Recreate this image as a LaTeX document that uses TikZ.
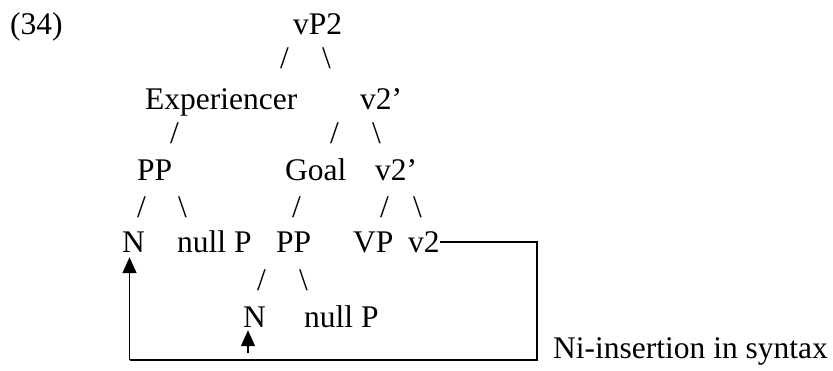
\documentclass[tikz,border=0pt]{standalone}
\usepackage{fontspec}
\setmainfont{Liberation Serif}
\usetikzlibrary{arrows.meta}
\begin{document}
\begin{tikzpicture}[x=1pt,y=-1pt,
        lab/.style={anchor=base west,inner sep=0pt,font=\fontsize{31.5}{37}\selectfont},
        link/.style={line width=1.6pt},
        tip/.style={-{Triangle[width=14pt,length=16pt]}}]
        \useasboundingbox (0,0) rectangle (833,370);
        \node[lab] (ex) at (10,34) {(34)};
        \node[lab] (vP) at (293,34) {vP2};
        \node[lab] (s1) at (280,68) {/};
        \node[lab] (s2) at (322,68) {\textbackslash};
        \node[lab] (Exp) at (145,109) {Experiencer};
        \node[lab] (vbarA) at (360,109) {v2’};
        \node[lab] (s3) at (170,143) {/};
        \node[lab] (s4) at (330,143) {/};
        \node[lab] (s5) at (372,143) {\textbackslash};
        \node[lab] (PPa) at (137,180) {PP};
        \node[lab] (Goal) at (285,180) {Goal};
        \node[lab] (vbarB) at (375,180) {v2’};
        \node[lab] (s6) at (137,217) {/};
        \node[lab] (s7) at (178,217) {\textbackslash};
        \node[lab] (s8) at (292,217) {/};
        \node[lab] (s9) at (380,217) {/};
        \node[lab] (s10) at (413,217) {\textbackslash};
        \node[lab] (Na) at (122,252) {N};
        \node[lab] (nullA) at (177,252) {null P};
        \node[lab] (PPb) at (276,252) {PP};
        \node[lab] (VP) at (353,252) {VP};
        \node[lab] (v) at (408,252) {v2};
        \node[lab] (s11) at (257,290) {/};
        \node[lab] (s12) at (299,290) {\textbackslash};
        \node[lab] (Nb) at (243,327) {N};
        \node[lab] (nullB) at (304,327) {null P};
        \node[lab] (ins) at (553,358) {Ni-insertion in syntax};
        \coordinate (R) at (537,360);
        \coordinate (L) at (129.5,360);
        \coordinate (M) at (248,353);
        \draw[link] (v.east) -| (R) -- (L);
        \draw[link,tip] (L) -- ([yshift=-5pt]L |- Na.south);
        \draw[link,tip] (M) -- ([yshift=-3pt]M |- Nb.south);
    \end{tikzpicture}
\end{document}
